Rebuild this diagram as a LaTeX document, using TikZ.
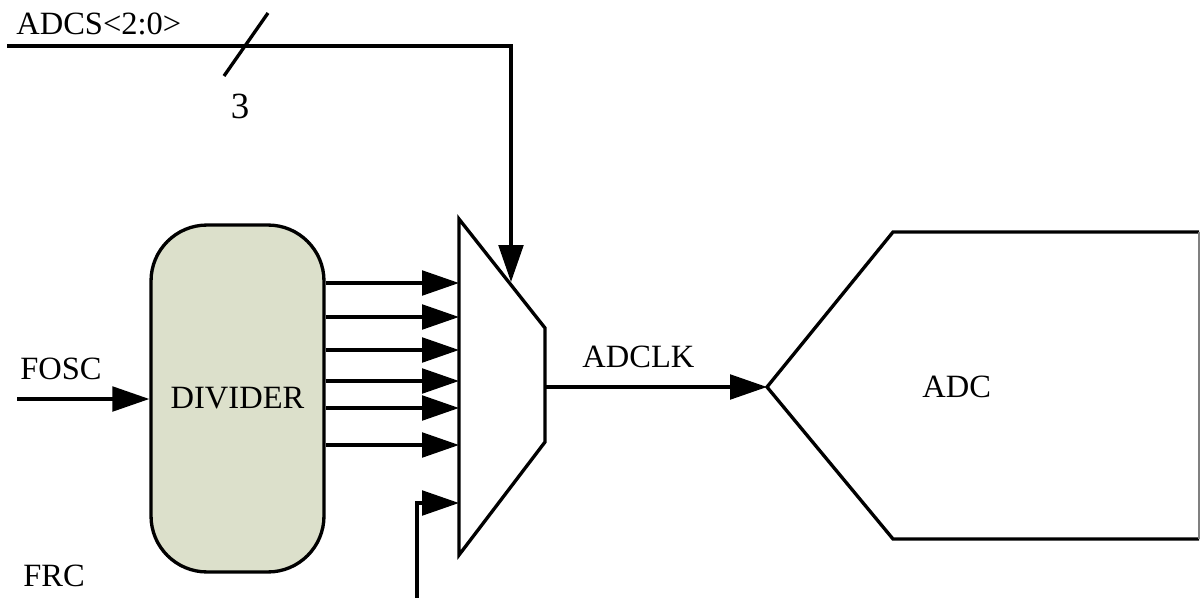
\documentclass[tikz,border=0pt]{standalone}
\usepackage{fontspec}
\setmainfont{Liberation Serif}
\usepackage{xcolor}
\usetikzlibrary{arrows.meta, positioning, calc}

\definecolor{divfill}{RGB}{220,224,203}

\begin{document}
\begin{tikzpicture}[
    x=0.02cm, y=-0.02cm,
    wire/.style={line width=1.9pt, draw=black},
    sig/.style={wire, -{Triangle[length=21pt, width=14pt]}},
    lbl/.style={inner sep=0pt, font=\fontsize{18.5}{22}\selectfont},
    divbox/.style={rectangle, draw=black, fill=divfill, line width=1.9pt, rounded corners=1.12cm, minimum width=3.46cm, minimum height=6.94cm, inner sep=0pt, font=\fontsize{18.5}{22}\selectfont}
]
    \useasboundingbox (0,0) rectangle (1200,598);

    % Divider
    \node[divbox] (div) at (237.5,398.5) {DIVIDER};

    % Multiplexer
    \coordinate (mux-tl) at (459,219);
    \coordinate (mux-tr) at (545,328);
    \coordinate (mux-br) at (545,442);
    \coordinate (mux-bl) at (459,555);
    \coordinate (mux-out) at (545,387);
    \coordinate (mux-sel) at (511,282);
    \draw[wire, line join=miter] (mux-tl) -- (mux-tr) -- (mux-br) -- (mux-bl) -- cycle;

    % ADC block
    \coordinate (adc-tip) at (767,387);
    \draw[wire, line join=miter] (1199,232) -- (893,232) -- (adc-tip) -- (893,539) -- (1199,539);
    \draw[line width=0.6pt, draw=gray] (1199,232) -- (1199,539);
    \node[lbl, anchor=base west] (adc) at (922,397) {ADC};

    % Inputs
    \coordinate (fosc-in) at (17,399);
    \node[lbl, anchor=base west] (fosc) at (20,379) {FOSC};
    \draw[sig] (fosc-in) -- (div.west |- fosc-in);

    \node[lbl, anchor=base west] (frc) at (23,586) {FRC};
    \coordinate (frc-in) at (417,598);
    \draw[sig] (frc-in) |- (mux-tl |- 0,503);

    % Divider outputs
    \foreach \y in {283,317,350,381,408,445}
        \draw[sig] (div.east |- 0,\y) -- (mux-tl |- 0,\y);

    % Select bus
    \coordinate (adcs-in) at (7,46);
    \node[lbl, anchor=base west] (adcs) at (16,35) {ADCS<2:0>};
    \draw[sig] (adcs-in) -| (mux-sel);
    \draw[wire] (224,76) -- (268,13);
    \node[inner sep=0pt, anchor=base, font=\fontsize{21}{24}\selectfont] (bw) at (240,118) {3};

    % Clock to ADC
    \draw[sig] (mux-out) -- node[lbl, above=10pt, xshift=-10pt] (adclk) {ADCLK} (adc-tip);
\end{tikzpicture}
\end{document}
